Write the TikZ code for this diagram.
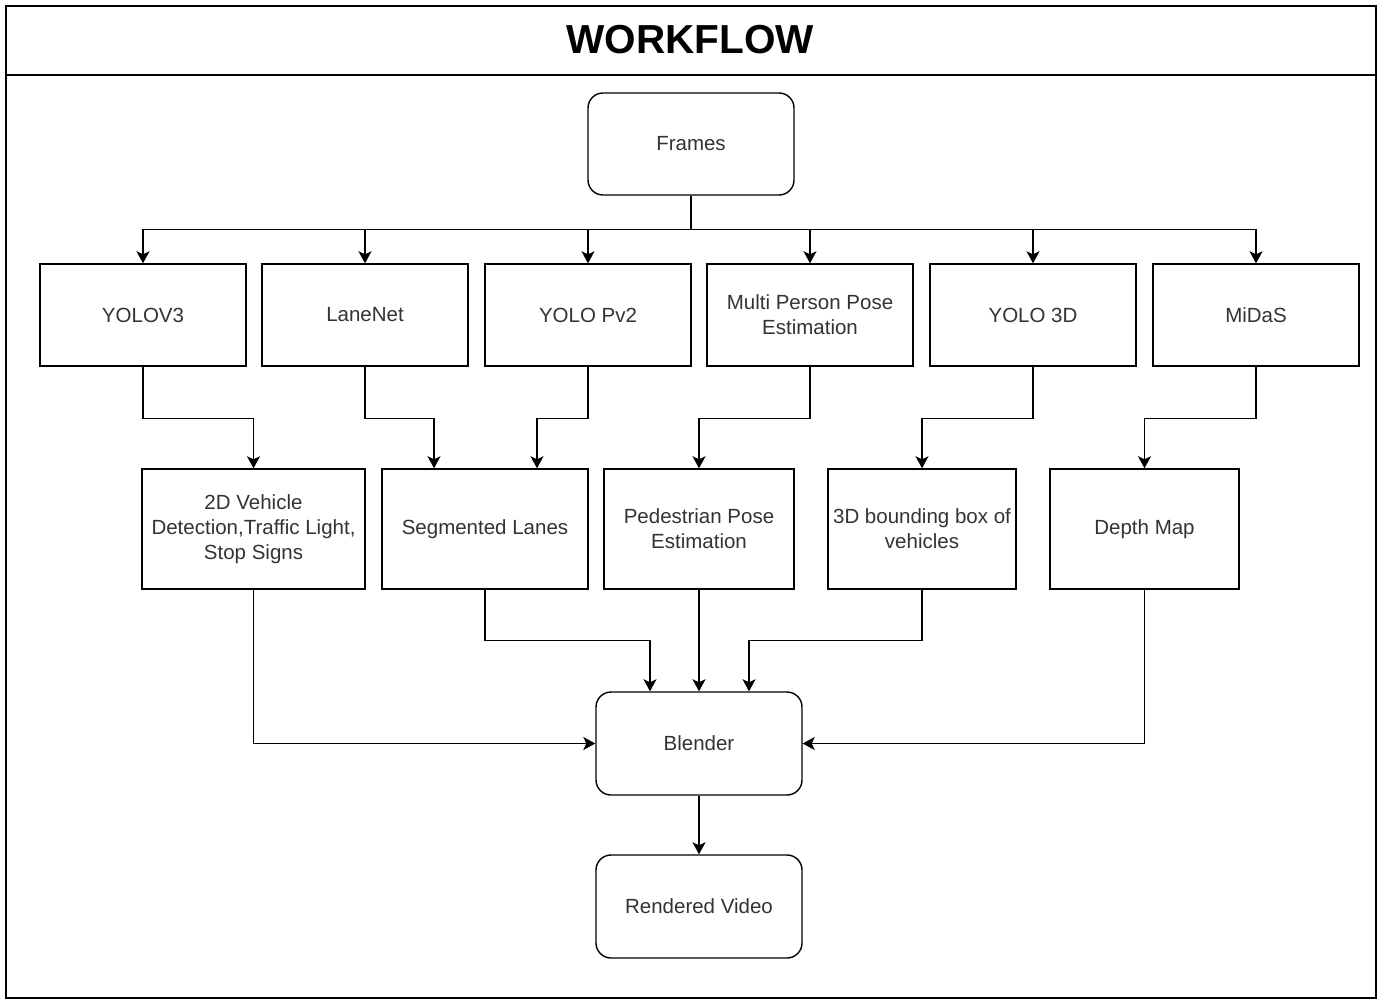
\documentclass[tikz,border=0pt]{standalone}
\usepackage{fontspec}
\setmainfont{Liberation Sans}
\usetikzlibrary{arrows.meta,calc}
\definecolor{txt}{HTML}{333333}
\tikzset{
  box/.style={draw=black, line width=1.4pt, fill=white, align=center, text=txt,
    font=\fontsize{20.5}{25}\selectfont, inner sep=1pt, anchor=center},
  rbox/.style={box, rounded corners=15pt},
  arr/.style={line width=1.4pt, -{Stealth[length=12pt,width=13pt,inset=3pt]}},
  ln/.style={line width=1.4pt},
}
\begin{document}
\begin{tikzpicture}[x=1pt,y=-1pt]
\useasboundingbox (0,0) rectangle (1380,1000);
\fill[white] (0,0) rectangle (1380,1000);
% container
\draw[ln] (6,6) rectangle (1376,998);
\draw[ln] (6,75) -- (1376,75);
\node[font=\fontsize{40.5}{48}\selectfont\bfseries, text=black] (title) at (690,40) {WORKFLOW};

% top
\node[rbox, minimum width=206pt, minimum height=102pt] (frames) at (691,144) {Frames};

% row 1
\foreach \n/\x/\t in {yolo/143/YOLOV3, lane/365/LaneNet, pv/588/YOLO Pv2,
  multi/810/{Multi Person Pose\\Estimation}, ythree/1033/YOLO 3D, midas/1256/MiDaS}{
  \node[box, minimum width=206pt, minimum height=102pt] (\n) at (\x,315) {\t};
}

% row 2
\node[box, minimum width=223pt, minimum height=120pt] (vtwo) at (253.5,529) {2D Vehicle\\Detection,Traffic Light,\\Stop Signs};
\node[box, minimum width=206pt, minimum height=120pt] (seg) at (485,529) {Segmented Lanes};
\node[box, minimum width=190pt, minimum height=120pt] (ped) at (699,529) {Pedestrian Pose\\Estimation};
\node[box, minimum width=188pt, minimum height=120pt] (bb) at (922,529) {3D bounding box of\\vehicles};
\node[box, minimum width=189pt, minimum height=120pt] (depth) at (1144.5,529) {Depth Map};

% bottom
\node[rbox, minimum width=206pt, minimum height=103pt] (blender) at (699,743.5) {Blender};
\node[rbox, minimum width=206pt, minimum height=103pt] (video) at (699,906.5) {Rendered Video};

% frames -> row 1
\foreach \n in {yolo,lane,pv,multi,ythree,midas}{
  \draw[arr] (frames.south) -- ++(0,34) -| (\n.north);
}

% row 1 -> row 2
\draw[arr] (yolo.south) -- ++(0,52) -| (vtwo.north);
\draw[arr] (lane.south) -- ++(0,52) -| ([xshift=-51pt]seg.north);
\draw[arr] (pv.south) -- ++(0,52) -| ([xshift=52pt]seg.north);
\draw[arr] (multi.south) -- ++(0,52) -| (ped.north);
\draw[arr] (ythree.south) -- ++(0,52) -| (bb.north);
\draw[arr] (midas.south) -- ++(0,52) -| (depth.north);

% row 2 -> blender
\draw[arr] (vtwo.south) |- (blender.west);
\draw[arr] (seg.south) -- ++(0,51) -| ([xshift=-49pt]blender.north);
\draw[arr] (ped.south) -- (blender.north);
\draw[arr] (bb.south) -- ++(0,51) -| ([xshift=50pt]blender.north);
\draw[arr] (depth.south) |- (blender.east);

% blender -> video
\draw[arr] (blender.south) -- (video.north);
\end{tikzpicture}
\end{document}
